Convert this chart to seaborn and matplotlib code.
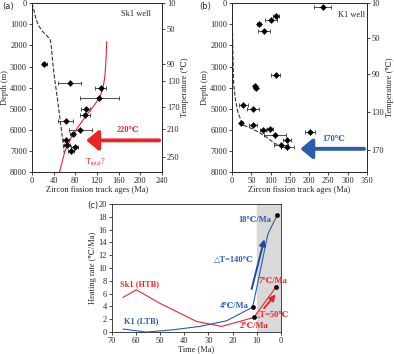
import numpy as np
import pandas as pd
import seaborn as sns
import matplotlib.pyplot as plt

# ---- data: panel (a) Sk1 well ----
sk1_age = [23, 70, 127, 124, 99, 98, 62, 89, 75, 63, 65, 79, 72]
sk1_depth = [2900, 3800, 4000, 4500, 5000, 5300, 5600, 6000, 6200, 6500, 6700, 6800, 7000]
sk1_err = [5, 21, 10, 36, 9, 10, 14, 21, 5, 6, 6, 6, 6]
sk1_dash_age = [0, 3, 7, 12, 20, 28, 34, 36, 38, 41, 44, 48, 52, 56, 60]
sk1_dash_depth = [0, 250, 700, 1050, 1350, 1550, 1750, 2100, 2700, 3400, 3960, 4700, 5500, 6300, 7130]
sk1_red_age = [138, 137, 136, 134.5, 132, 129, 124, 116, 107, 98, 87, 74, 61, 51]
sk1_red_depth = [1820, 2500, 3000, 3500, 3900, 4200, 4500, 4800, 5100, 5400, 5800, 6300, 7000, 8000]
sk1_temp_labels = ["10", "50", "90", "130", "170", "210", "250"]
sk1_temp_depths = [0, 1220, 2880, 3680, 4940, 5960, 7290]

# ---- data: panel (b) K1 well ----
k1_age = [235, 114, 102, 70, 83, 113, 59, 62, 29, 55, 24, 55, 81, 98, 111, 202, 143, 128, 143]
k1_depth = [200, 600, 800, 1000, 1300, 3400, 3900, 4000, 4800, 5000, 5700, 5750, 6000, 5950,
            6250, 6100, 6500, 6700, 6800]
k1_err = [21, 8, 16, 5, 16, 12, 4, 4, 12, 16, 4, 11, 8, 8, 28, 13, 10, 18, 17]
k1_dash_age = [0, 2, 4, 9, 16, 29, 46, 68, 89, 111, 137]
k1_dash_depth = [0, 2200, 3800, 4600, 5230, 5780, 5900, 6100, 6340, 6650, 6810]
k1_temp_labels = ["10", "50", "90", "130", "170"]
k1_temp_depths = [0, 1660, 3360, 5150, 6940]

# ---- data: panel (c) heating rate ----
sk1_time = [65.4, 59.9, 50.2, 35.0, 24.6, 11.2, 2.1]
sk1_rate = [5.4, 6.6, 4.5, 1.66, 0.88, 2.28, 7.0]
k1_time = [65.4, 55.7, 44.6, 33.6, 22.5, 11.7, 5.4, 1.5]
k1_rate = [0.47, 0.0, 0.36, 0.88, 1.76, 3.88, 15.3, 18.3]
dot_time = [11.7, 11.2, 2.1, 1.5]
dot_rate = [3.88, 2.28, 7.0, 18.3]

RED = '#e8262a'
BLUE = '#2a5cb0'

sns.set_theme(style="ticks")
plt.rcParams['font.family'] = ['Liberation Serif', 'DejaVu Serif', 'Noto Sans CJK SC']
plt.rcParams['mathtext.fontset'] = 'custom'
plt.rcParams['mathtext.rm'] = 'Liberation Serif'
plt.rcParams['mathtext.bf'] = 'Liberation Serif:bold'
fs = 6

fig = plt.figure(figsize=(3.94, 3.54), dpi=100)
ax_a = fig.add_axes([0.081, 0.514, 0.330, 0.477])
ax_b = fig.add_axes([0.589, 0.514, 0.342, 0.477])
ax_c = fig.add_axes([0.284, 0.062, 0.429, 0.362])


def style_axes(ax):
    ax.tick_params(labelsize=fs, length=2, width=0.6, pad=1.5)
    for s in ax.spines.values():
        s.set_linewidth(0.6)


# ---- (a) ----
ax = ax_a
ax.errorbar(sk1_age, sk1_depth, xerr=sk1_err, fmt='none', ecolor='#333333',
            elinewidth=0.6, capsize=1.2, capthick=0.6)
sns.scatterplot(x=sk1_age, y=sk1_depth, marker='D', s=10, color='black',
                edgecolor='black', ax=ax, zorder=3)
sns.lineplot(x=sk1_dash_age, y=sk1_dash_depth, sort=False, color='#333333',
             linestyle='--', linewidth=0.8, ax=ax)
sns.lineplot(x=sk1_red_age, y=sk1_red_depth, sort=False, color=RED,
             linewidth=0.8, ax=ax)
ax.set_xlim(0, 240)
ax.set_ylim(8000, 0)
ax.set_xticks(np.arange(0, 241, 40))
ax.set_yticks(np.arange(0, 8001, 1000))
ax.set_xlabel("Zircon fission track ages (Ma)", fontsize=fs, labelpad=1)
ax.set_ylabel("Depth (m)", fontsize=fs, labelpad=1)
ax.annotate("", xy=(95, 6500), xytext=(240, 6500),
            arrowprops=dict(arrowstyle='-|>,head_width=0.5,head_length=0.6',
                            color=RED, lw=2.8))
ax.text(178, 6120, "220℃", color=RED, fontsize=fs, fontweight='bold', ha='center')
ax.text(118, 7650, r"T$_{\rm total}$?", color=RED, fontsize=fs, ha='center')
ax.text(193, 600, "Sk1 well", fontsize=fs, ha='center')
style_axes(ax)
ax2 = ax.twinx()
ax2.set_ylim(8000, 0)
ax2.set_yticks(sk1_temp_depths)
ax2.set_yticklabels(sk1_temp_labels)
ax2.set_ylabel("Temperature (℃)", fontsize=fs, labelpad=1)
style_axes(ax2)

# ---- (b) ----
ax = ax_b
ax.errorbar(k1_age, k1_depth, xerr=k1_err, fmt='none', ecolor='#333333',
            elinewidth=0.6, capsize=1.2, capthick=0.6)
sns.scatterplot(x=k1_age, y=k1_depth, marker='D', s=10, color='black',
                edgecolor='black', ax=ax, zorder=3)
sns.lineplot(x=k1_dash_age, y=k1_dash_depth, sort=False, color='#333333',
             linestyle='--', linewidth=0.8, ax=ax)
ax.set_xlim(0, 350)
ax.set_ylim(8000, 0)
ax.set_xticks(np.arange(0, 351, 50))
ax.set_yticks(np.arange(0, 8001, 1000))
ax.set_xlabel("Zircon fission track ages (Ma)", fontsize=fs, labelpad=1)
ax.set_ylabel("Depth (m)", fontsize=fs, labelpad=1)
ax.annotate("", xy=(170, 6900), xytext=(350, 6900),
            arrowprops=dict(arrowstyle='-|>,head_width=0.5,head_length=0.6',
                            color=BLUE, lw=2.8))
ax.text(263, 6550, "170℃", color=BLUE, fontsize=fs, fontweight='bold', ha='center')
ax.text(311, 650, "K1 well", fontsize=fs, ha='center')
style_axes(ax)
ax2 = ax.twinx()
ax2.set_ylim(8000, 0)
ax2.set_yticks(k1_temp_depths)
ax2.set_yticklabels(k1_temp_labels)
ax2.set_ylabel("Temperature (℃)", fontsize=fs, labelpad=1)
style_axes(ax2)

# ---- (c) ----
ax = ax_c
ax.axvspan(0, 10, color='#d9d9d9', zorder=0)
sns.lineplot(x=sk1_time, y=sk1_rate, sort=False, color=RED, linewidth=0.8, ax=ax)
sns.lineplot(x=k1_time, y=k1_rate, sort=False, color=BLUE, linewidth=0.8, ax=ax)
sns.scatterplot(x=dot_time, y=dot_rate, color='black', s=10, edgecolor='black',
                ax=ax, zorder=4)
ax.set_xlim(70, 0)
ax.set_ylim(0, 20)
ax.set_xticks(np.arange(70, -1, -10))
ax.set_yticks(np.arange(0, 21, 2))
ax.set_xlabel("Time (Ma)", fontsize=fs, labelpad=0.5)
ax.set_ylabel("Heating rate (℃/Ma)", fontsize=fs, labelpad=1)
ax.annotate("", xy=(6.6, 14.9), xytext=(12.4, 6.3),
            arrowprops=dict(arrowstyle='-|>,head_width=0.15,head_length=0.3',
                            color='#1a4aa0', lw=1.4))
ax.annotate("", xy=(1.4, 6.2), xytext=(7.7, 3.4),
            arrowprops=dict(arrowstyle='-|>,head_width=0.15,head_length=0.3',
                            color=RED, lw=1.4))
ax.text(11.0, 17.5, "18℃/Ma", color=BLUE, fontsize=fs, fontweight='bold', ha='center', va='center')
ax.text(19.4, 11.2, "△T=140℃", color=BLUE, fontsize=fs, fontweight='bold', ha='center', va='center')
ax.text(19.3, 4.0, "4℃/Ma", color=BLUE, fontsize=fs, fontweight='bold', ha='center', va='center')
ax.text(57.8, 1.66, "K1 (LTB)", color=BLUE, fontsize=fs, fontweight='bold', ha='center', va='center')
ax.text(58.5, 7.5, "Sk1 (HTB)", color=RED, fontsize=fs, fontweight='bold', ha='center', va='center')
ax.text(3.4, 8.0, "7℃/Ma", color=RED, fontsize=fs, fontweight='bold', ha='center', va='center')
ax.text(3.9, 2.6, "△T=50℃", color=RED, fontsize=fs, fontweight='bold', ha='center', va='center')
ax.text(11.2, 0.9, "2℃/Ma", color=RED, fontsize=fs, fontweight='bold', ha='center', va='center')
style_axes(ax)

fig.text(0.005, 0.975, "(a)", fontsize=fs, family='DejaVu Sans')
fig.text(0.505, 0.975, "(b)", fontsize=fs, family='DejaVu Sans')
fig.text(0.222, 0.412, "(c)", fontsize=fs, family='DejaVu Sans')

fig.savefig("out.png", dpi=100)
